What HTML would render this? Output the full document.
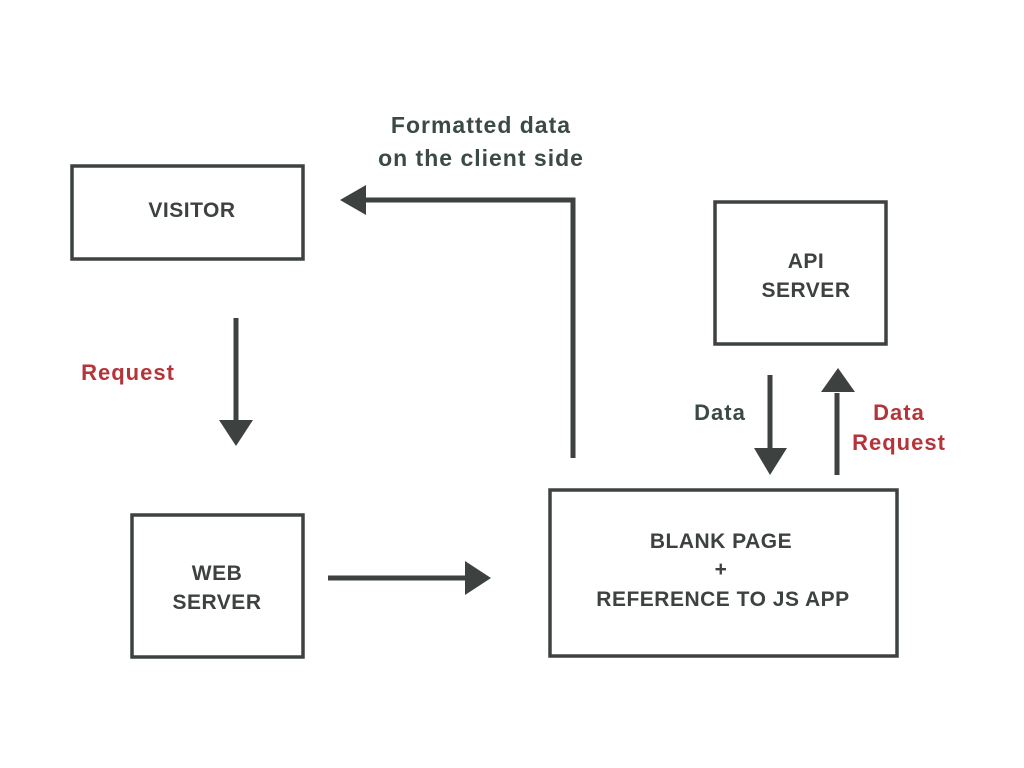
<!DOCTYPE html>
<html><head><meta charset="utf-8"><style>body{margin:0;background:#fff}svg{display:block}</style></head><body>
<svg width="1024" height="768" viewBox="0 0 1024 768" xmlns="http://www.w3.org/2000/svg" font-family="Liberation Sans, sans-serif" font-weight="bold">
<g fill="none" stroke="#3d4241" stroke-width="3.5">
<rect x="72" y="166" width="231" height="93"/>
<rect x="715" y="202" width="171" height="142"/>
<rect x="132" y="515" width="171" height="142"/>
<rect x="550" y="490" width="347" height="166"/>
</g>
<g stroke="#3d4241" stroke-width="5" fill="none">
<line x1="236" y1="318" x2="236" y2="422"/>
<line x1="328" y1="578" x2="467" y2="578"/>
<polyline points="573,458 573,200 362,200"/>
<line x1="770" y1="375" x2="770" y2="450"/>
<line x1="837" y1="475" x2="837" y2="393"/>
</g>
<g fill="#3d4241">
<polygon points="219,420 253,420 236,446"/>
<polygon points="465,561 465,595 491,578"/>
<polygon points="366,185 366,215 340,200"/>
<polygon points="754,448 787,448 770,475"/>
<polygon points="821,392 855,392 838,368"/>
</g>
<g fill="#3d4241" font-size="21" letter-spacing="0.5" text-anchor="middle">
<text x="192" y="217">VISITOR</text>
<text x="806" y="268">API</text>
<text x="806" y="297">SERVER</text>
<text x="217" y="580">WEB</text>
<text x="217" y="609">SERVER</text>
<text x="721" y="548">BLANK PAGE</text>
<text x="721" y="576">+</text>
<text x="723" y="606">REFERENCE TO JS APP</text>
</g>
<g fill="#3b4a44" font-size="23" letter-spacing="1" text-anchor="middle">
<text x="481" y="133">Formatted data</text>
<text x="481" y="166">on the client side</text>
</g>
<g fill="#3b4a44" font-size="22" letter-spacing="1" text-anchor="middle">
<text x="720" y="420">Data</text>
</g>
<g fill="#b5343a" font-size="22" letter-spacing="1" text-anchor="middle">
<text x="128" y="380">Request</text>
<text x="899" y="420">Data</text>
<text x="899" y="450">Request</text>
</g>
</svg>
</body></html>
